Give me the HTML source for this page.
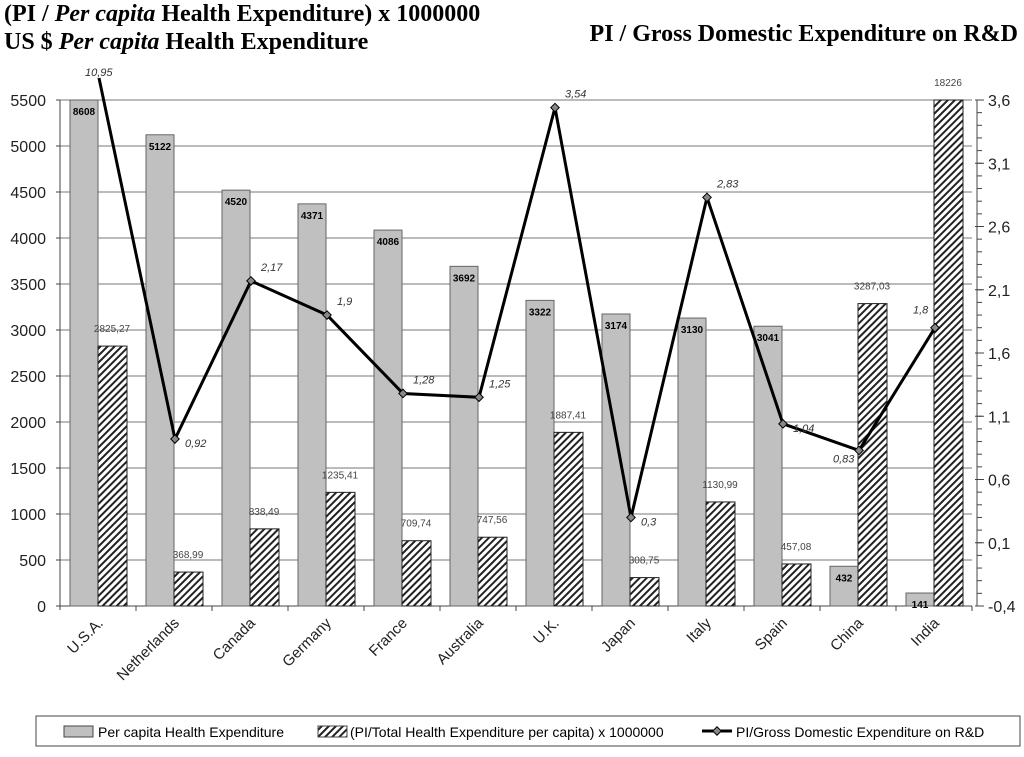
<!DOCTYPE html>
<html><head><meta charset="utf-8"><style>
body{margin:0;background:#fff;width:1024px;height:752px;overflow:hidden}
svg text{font-family:"Liberation Sans",Arial,sans-serif}
.t{font-family:"Liberation Serif",serif;font-weight:bold;font-size:24px}
</style></head><body>
<svg id="c" width="1024" height="752">
<defs>
<pattern id="h" width="5" height="5" patternUnits="userSpaceOnUse" patternTransform="rotate(45)">
<rect width="5" height="5" fill="#fff"/><rect width="2" height="5" fill="#222"/></pattern>
</defs>
<text class="t" x="4" y="21">(PI / <tspan font-style="italic">Per capita</tspan> Health Expenditure) x 1000000</text>
<text class="t" x="4" y="49">US $ <tspan font-style="italic">Per capita</tspan> Health Expenditure</text>
<text class="t" x="1018" y="41" text-anchor="end">PI / Gross Domestic Expenditure on R&amp;D</text>
<g id="g"></g>
<g>
<rect x="36" y="716" width="984" height="30" fill="#fff" stroke="#444"/>
<rect x="64" y="726" width="29" height="11" fill="#c0c0c0" stroke="#444"/>
<text x="98" y="737" font-size="14">Per capita Health Expenditure</text>
<rect x="318" y="726" width="29" height="11" fill="url(#h)" stroke="#444"/>
<text x="350" y="737" font-size="14">(PI/Total Health Expenditure per capita) x 1000000</text>
<line x1="702" y1="731" x2="732" y2="731" stroke="#000" stroke-width="3"/>
<rect x="714" y="728" width="6" height="6" fill="#888" stroke="#000" transform="rotate(45 717 731)"/>
<text x="736" y="737" font-size="14">PI/Gross Domestic Expenditure on R&amp;D</text>
</g>
</svg>
<script>
const categories=["U.S.A.","Netherlands","Canada","Germany","France","Australia","U.K.","Japan","Italy","Spain","China","India"];
const health=[8608,5122,4520,4371,4086,3692,3322,3174,3130,3041,432,141];
const piHealth=[2825.27,368.99,838.49,1235.41,709.74,747.56,1887.41,308.75,1130.99,457.08,3287.03,18226];
const piRD=[10.95,0.92,2.17,1.9,1.28,1.25,3.54,0.3,2.83,1.04,0.83,1.8];
const leftTicks=[0,500,1000,1500,2000,2500,3000,3500,4000,4500,5000,5500];
const rightTicks=[-0.4,0.1,0.6,1.1,1.6,2.1,2.6,3.1,3.6];
const NS="http://www.w3.org/2000/svg";
const g=document.getElementById('g');
const X0=60,X1=972,Y0=606,YT=100,GW=(X1-X0)/categories.length;
const yL=v=>Y0-(Math.min(v,5500))/5500*(Y0-YT);
const yR=v=>Y0-(v+0.4)/4*(Y0-YT);
const fmt=v=>String(v).replace('.',',');
function el(t,a,txt){const e=document.createElementNS(NS,t);for(const k in a)e.setAttribute(k,a[k]);if(txt!==undefined)e.textContent=txt;g.appendChild(e);return e;}
leftTicks.forEach(v=>{
 const y=yL(v);
 if(v>0){const l=el('line',{x1:X0,x2:X1,y1:y,y2:y,stroke:'#777'});
 
 }
 el('line',{x1:X0-4,x2:X0,y1:y,y2:y,stroke:'#444'});
 const t=el('text',{x:X0-14,y:y+6,'font-size':16,'text-anchor':'end',fill:'#222'},v);
 
 
});
for(let v=-0.4;v<=3.61;v+=0.1){const y=yR(v);el('line',{x1:X1+5,x2:X1+10,y1:y,y2:y,stroke:'#444'});}
rightTicks.forEach(v=>{
 const y=yR(v);
 el('line',{x1:X1+3,x2:X1+12,y1:y,y2:y,stroke:'#444'});
 const t=el('text',{x:X1+16,y:y+6,'font-size':16,fill:'#222'},fmt(v));
 
 
});
el('line',{x1:X0,x2:X0,y1:YT,y2:Y0+4,stroke:'#444'});
el('line',{x1:X1+5,x2:X1+5,y1:YT,y2:Y0,stroke:'#444'});
el('line',{x1:X0,x2:X1,y1:Y0,y2:Y0,stroke:'#444'});
const pts=[];
categories.forEach((c,i)=>{
 const gx=X0+i*GW;
 el('line',{x1:gx+GW,x2:gx+GW,y1:Y0,y2:Y0+5,stroke:'#444'});
 const yh=yL(health[i]);
 const b=el('rect',{x:gx+10,y:yh,width:28,height:Y0-yh,fill:'#c0c0c0',stroke:'#666'});
 
 
 const tl=el('text',{x:gx+24,y:yh+15,'font-size':10,'font-weight':'bold','text-anchor':'middle'},health[i]);
 
 
 const yp=yL(piHealth[i]);
 const b2=el('rect',{x:gx+38,y:yp,width:29,height:Y0-yp,fill:'url(#h)',stroke:'#222'});
 
 
 const t2=el('text',{x:gx+52,y:yp-14,'font-size':10,fill:'#444','text-anchor':'middle'},fmt(piHealth[i]));
 
 
 const lx=gx+GW/2+1,ly=Math.max(yR(piRD[i]),78);pts.push([lx,ly,yR(piRD[i])<78]);
 const cl=el('text',{x:0,y:0,'font-size':15,fill:'#222','text-anchor':'end',transform:`translate(${gx+GW/2+6},${Y0+18}) rotate(-45)`},c);
 
 
});
const ln=el('polyline',{points:pts.map(p=>p[0]+','+p[1]).join(' '),fill:'none',stroke:'#000','stroke-width':3});


pts.forEach((p,i)=>{
 if(!p[2]){const m=el('rect',{x:p[0]-3,y:p[1]-3,width:6,height:6,fill:'#888',stroke:'#000',transform:`rotate(45 ${p[0]} ${p[1]})`});
 
 }
 let tx=p[0]+10,ty=p[1]+(i==1||i==7||i==9?8:-10);
 if(p[2]){tx=p[0]-14;ty=76;}
 if(i==10){tx=p[0]-26;ty=p[1]+12;}
 if(i==11){tx=p[0]-22;ty=p[1]-14;}
 const lt=el('text',{x:tx,y:ty,'font-size':11,'font-style':'italic',fill:'#333'},fmt(piRD[i]));
 
 
});
</script>
</body></html>
